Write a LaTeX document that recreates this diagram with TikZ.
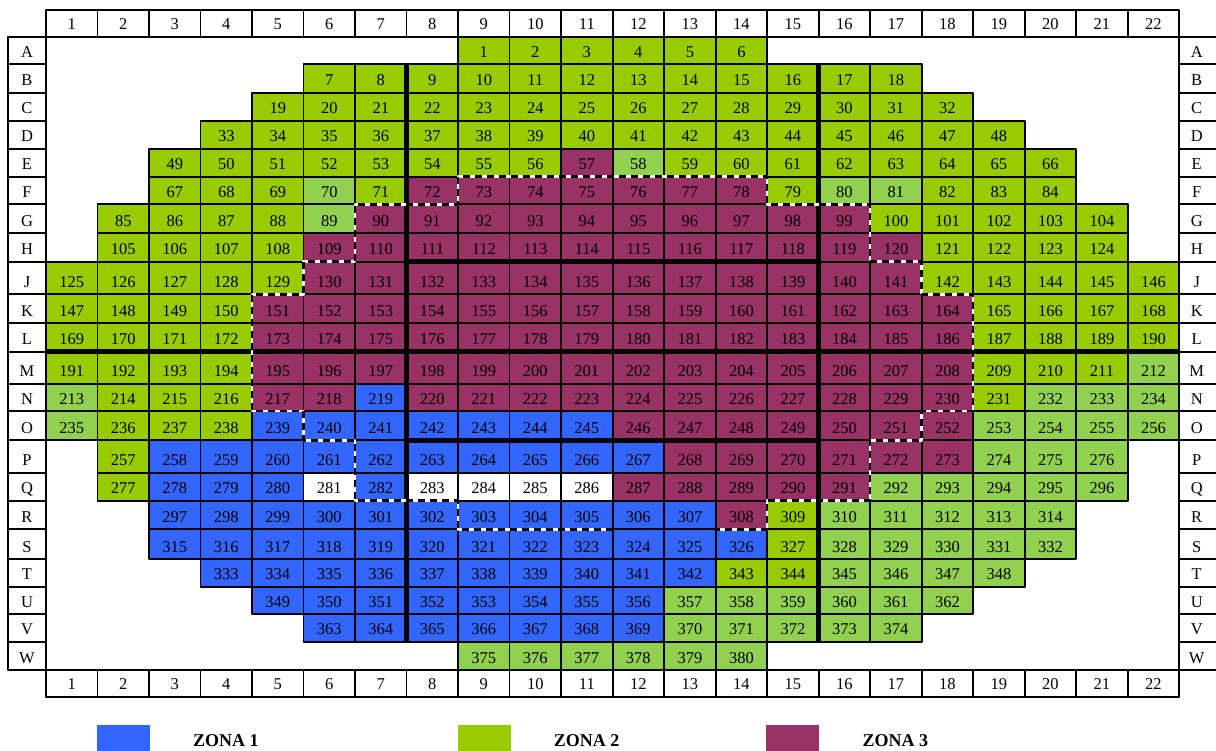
\documentclass[tikz,border=0pt]{standalone}
\usepackage{fontspec}
\setmainfont{Liberation Serif}
\usetikzlibrary{positioning}
\definecolor{zb}{HTML}{3366FF}
\definecolor{zg}{HTML}{99CC00}
\definecolor{zl}{HTML}{92D050}
\definecolor{zp}{HTML}{993366}
\definecolor{zw}{HTML}{FFFFFF}
\newcount\seatno
\tikzset{
  seat/.style={draw=black, line width=1.8pt},
  num/.style={anchor=base, inner sep=0pt},
  thickline/.style={line width=4.5pt},
  zoneedge/.style={draw=white, line width=2.6pt, postaction={draw=black, dash pattern=on 7pt off 5pt}},
  keybox/.style={minimum width=53pt, minimum height=28pt, inner sep=0pt},
  keytext/.style={inner sep=0pt, font=\fontsize{18}{20}\selectfont\bfseries}
}
\begin{document}
\begin{tikzpicture}[x=1pt, y=-1pt, font=\fontsize{16.5}{18}\selectfont, line join=round]
\useasboundingbox (0,0) rectangle (1216,751);
\begin{scope}[xshift=46pt, x=51.51pt]
% column numbers
\foreach \c in {1,...,22}{
  \draw[seat] (\c-1,10) rectangle (\c,37.3);
  \node[num] (top\c) at (\c-0.5,29.8) {\c};
  \draw[seat] (\c-1,670) rectangle (\c,697.3);
  \node[num] (bot\c) at (\c-0.5,689.8) {\c};
}
\draw[seat] (0,37.3) rectangle (22,670);
% rows: label/top/bottom/first column/colours
\foreach \lab/\yt/\yb/\cs/\cols in {
  A/37.3/64.3/9/{zg,zg,zg,zg,zg,zg},
  B/64.3/92.7/6/{zg,zg,zg,zg,zg,zg,zg,zg,zg,zg,zg,zg},
  C/92.7/120.7/5/{zg,zg,zg,zg,zg,zg,zg,zg,zg,zg,zg,zg,zg,zg},
  D/120.7/149/4/{zg,zg,zg,zg,zg,zg,zg,zg,zg,zg,zg,zg,zg,zg,zg,zg},
  E/149/176.7/3/{zg,zg,zg,zg,zg,zg,zg,zg,zp,zl,zg,zg,zg,zg,zg,zg,zg,zg},
  F/176.7/204.3/3/{zg,zg,zg,zl,zg,zp,zp,zp,zp,zp,zp,zp,zg,zl,zl,zg,zg,zg},
  G/204.3/233.3/2/{zg,zg,zg,zg,zl,zp,zp,zp,zp,zp,zp,zp,zp,zp,zp,zg,zg,zg,zg,zg},
  H/233.3/261.7/2/{zg,zg,zg,zg,zp,zp,zp,zp,zp,zp,zp,zp,zp,zp,zp,zp,zg,zg,zg,zg},
  J/261.7/294.3/1/{zg,zg,zg,zg,zg,zp,zp,zp,zp,zp,zp,zp,zp,zp,zp,zp,zp,zg,zg,zg,zg,zg},
  K/294.3/323.3/1/{zg,zg,zg,zg,zp,zp,zp,zp,zp,zp,zp,zp,zp,zp,zp,zp,zp,zp,zg,zg,zg,zg},
  L/323.3/351.7/1/{zg,zg,zg,zg,zp,zp,zp,zp,zp,zp,zp,zp,zp,zp,zp,zp,zp,zp,zg,zg,zg,zg},
  M/351.7/384/1/{zg,zg,zg,zg,zp,zp,zp,zp,zp,zp,zp,zp,zp,zp,zp,zp,zp,zp,zg,zg,zg,zl},
  N/384/411/1/{zl,zg,zg,zg,zp,zp,zb,zp,zp,zp,zp,zp,zp,zp,zp,zp,zp,zp,zg,zl,zl,zl},
  O/411/440.3/1/{zl,zg,zg,zg,zb,zb,zb,zb,zb,zb,zb,zp,zp,zp,zp,zp,zp,zp,zl,zl,zl,zl},
  P/440.3/472.7/2/{zg,zb,zb,zb,zb,zb,zb,zb,zb,zb,zb,zp,zp,zp,zp,zp,zp,zl,zl,zl},
  Q/472.7/500.7/2/{zg,zb,zb,zb,zw,zb,zw,zw,zw,zw,zp,zp,zp,zp,zp,zl,zl,zl,zl,zl},
  R/500.7/529.3/3/{zb,zb,zb,zb,zb,zb,zb,zb,zb,zb,zb,zp,zg,zl,zl,zl,zl,zl},
  S/529.3/559/3/{zb,zb,zb,zb,zb,zb,zb,zb,zb,zb,zb,zb,zg,zl,zl,zl,zl,zl},
  T/559/586.7/4/{zb,zb,zb,zb,zb,zb,zb,zb,zb,zb,zg,zg,zl,zl,zl,zl},
  U/586.7/614/5/{zb,zb,zb,zb,zb,zb,zb,zb,zl,zl,zl,zl,zl,zl},
  V/614/641.7/6/{zb,zb,zb,zb,zb,zb,zb,zl,zl,zl,zl,zl},
  W/641.7/670/9/{zl,zl,zl,zl,zl,zl}}{
  \draw[seat] (-0.731,\yt) rectangle (0,\yb);
  \node[num] (left\lab) at (-0.369,\yb-7) {\lab};
  \draw[seat] (22,\yt) rectangle (22.9,\yb);
  \node[num] (right\lab) at (22.34,\yb-7) {\lab};
  \foreach \k [count=\j from 0] in \cols{
    \global\advance\seatno by 1
    \draw[seat, fill=\k] (\cs-1+\j,\yt) rectangle (\cs+\j,\yb);
    \node[num] (s\the\seatno) at (\cs-0.5+\j,\yb-7) {\the\seatno};
  }
}
% sector lines
\draw[thickline] (7,64.3) -- (7,641.7);
\draw[thickline] (15,64.3) -- (15,641.7);
\draw[thickline] (0,351.7) -- (22,351.7);
\draw[thickline] (7,261.7) -- (15,261.7);
\draw[thickline] (7,440.3) -- (15,440.3);
% zone 3 border
\draw[zoneedge] (11,529.3) -- (8,529.3) -- (8,500.7) -- (6,500.7) -- (6,440.3)
  -- (5,440.3) -- (5,411) -- (4,411) -- (4,294.3) -- (5,294.3) -- (5,261.7)
  -- (6,261.7) -- (6,204.3) -- (8,204.3) -- (8,176.7) -- (14,176.7) -- (14,204.3)
  -- (16,204.3) -- (16,261.7) -- (17,261.7) -- (17,294.3) -- (18,294.3) -- (18,411)
  -- (17,411) -- (17,440.3) -- (16,440.3) -- (16,500.7) -- (14,500.7) -- (14,529.3)
  -- (13,529.3);
\end{scope}
% legend
\node[keybox, fill=zb] (key1) at (123.5,739) {};
\node[keytext, right=42.7pt of key1, yshift=-1.5pt] (zone1) {ZONA 1};
\node[keybox, fill=zg] (key2) at (484.2,739) {};
\node[keytext, right=42.7pt of key2, yshift=-1.5pt] (zone2) {ZONA 2};
\node[keybox, fill=zp] (key3) at (792.9,739) {};
\node[keytext, right=42.7pt of key3, yshift=-1.5pt] (zone3) {ZONA 3};
\end{tikzpicture}
\end{document}
